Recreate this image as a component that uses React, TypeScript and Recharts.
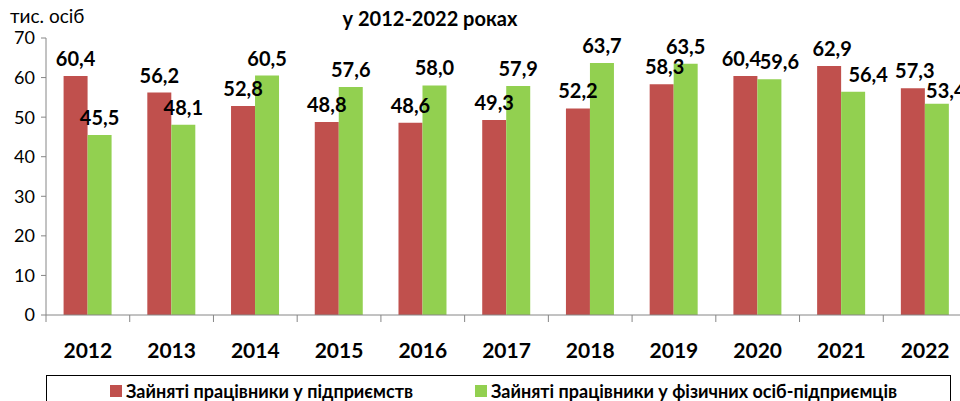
import React from "react";
import { BarChart, Bar, XAxis, YAxis, LabelList } from "recharts";

const years = ["2012", "2013", "2014", "2015", "2016", "2017", "2018", "2019", "2020", "2021", "2022"];
const enterpriseWorkers = [60.4, 56.2, 52.8, 48.8, 48.6, 49.3, 52.2, 58.3, 60.4, 62.9, 57.3];
const soleProprietorWorkers = [45.5, 48.1, 60.5, 57.6, 58.0, 57.9, 63.7, 63.5, 59.6, 56.4, 53.4];
const yTicks = [0, 10, 20, 30, 40, 50, 60, 70];

const seriesNames = ["Зайняті працівники у підприємств", "Зайняті працівники у фізичних осіб-підприємців"];
const RED = "#C0504D";
const GREEN = "#92D050";
const FONT = "Lato, 'Open Sans', sans-serif";

const data = years.map((y, i) => ({
  year: y,
  a: enterpriseWorkers[i],
  b: soleProprietorWorkers[i],
}));

const fmt = (v: number) => v.toFixed(1).replace(".", ",");

const PLOT_W = 921;
const BAND = PLOT_W / years.length;

// small label nudges (styling only)
const nudgeA: Record<number, [number, number]> = { 7: [3, 0], 8: [-4, 0], 9: [3, 0], 10: [2, 0] };
const nudgeB: Record<number, [number, number]> = { 8: [10, 0], 9: [15, 0], 10: [9, 4] };

const makeLabel = (nudge: Record<number, [number, number]>) => (props: any) => {
  const { x, y, width, value, index } = props;
  const [dx, dy] = nudge[index] || [0, 0];
  return (
    <text
      x={x + width / 2 + dx}
      y={y - 10 + dy}
      textAnchor="middle"
      fontFamily={FONT}
      fontWeight={700}
      fontSize={20}
      fill="#000"
    >
      {fmt(value)}
    </text>
  );
};

const XTick = (props: any) => {
  const { x, y, payload, index } = props;
  return (
    <g>
      <line x1={x - BAND / 2} x2={x - BAND / 2} y1={y - 8} y2={y - 1} stroke="#868686" strokeWidth={1} />
      {index === years.length - 1 && (
        <line x1={x + BAND / 2} x2={x + BAND / 2} y1={y - 8} y2={y - 1} stroke="#868686" strokeWidth={1} />
      )}
      <text x={x} y={y + 35} textAnchor="middle" fontFamily={FONT} fontWeight={700} fontSize={21} fill="#000">
        {payload.value}
      </text>
    </g>
  );
};

export default function App() {
  return (
    <div style={{ position: "fixed", left: 0, top: 0, width: 960, height: 401, overflow: "hidden", background: "#fff" }}>
      <BarChart
        width={967}
        height={401}
        data={data}
        margin={{ top: 38, right: 0, bottom: 0, left: 0 }}
        barCategoryGap="21%"
        barGap={0}
      >
        <XAxis
          dataKey="year"
          height={86}
          axisLine={{ stroke: "#868686" }}
          tickLine={false}
          tick={<XTick />}
          interval={0}
        />
        <YAxis
          width={46}
          domain={[0, 70]}
          ticks={yTicks}
          axisLine={{ stroke: "#868686" }}
          tickLine={{ stroke: "#868686" }}
          tickSize={5}
          tickMargin={6}
          tick={{ fontFamily: FONT, fontSize: 18, fill: "#000" }}
        />
        <Bar dataKey="a" name={seriesNames[0]} fill={RED} isAnimationActive={false}>
          <LabelList dataKey="a" content={makeLabel(nudgeA)} />
        </Bar>
        <Bar dataKey="b" name={seriesNames[1]} fill={GREEN} isAnimationActive={false}>
          <LabelList dataKey="b" content={makeLabel(nudgeB)} />
        </Bar>
      </BarChart>
      <div style={{ position: "absolute", left: 0, top: 0, width: 960, height: 401, pointerEvents: "none", fontFamily: FONT }}>
        <div style={{ position: "absolute", left: 10, top: 5, fontSize: 19, color: "#000", lineHeight: "22px" }}>тис. осіб</div>
        <div style={{ position: "absolute", left: 300, width: 260, textAlign: "center", top: 6, fontSize: 20, fontWeight: 700, color: "#000", lineHeight: "24px" }}>
          у 2012-2022 роках
        </div>
        <div style={{ position: "absolute", left: 46, top: 375, width: 905, height: 40, border: "1px solid #000", boxSizing: "border-box" }}>
          <div style={{ position: "absolute", left: 63, top: 5, display: "flex", alignItems: "center", fontSize: 18, lineHeight: "20px", fontWeight: 700, whiteSpace: "nowrap" }}>
            <span style={{ display: "inline-block", width: 12, height: 12, background: RED, marginRight: 4 }} />
            {seriesNames[0]}
          </div>
          <div style={{ position: "absolute", left: 428, top: 5, display: "flex", alignItems: "center", fontSize: 18, lineHeight: "20px", fontWeight: 700, whiteSpace: "nowrap" }}>
            <span style={{ display: "inline-block", width: 12, height: 12, background: GREEN, marginRight: 4 }} />
            {seriesNames[1]}
          </div>
        </div>
      </div>
    </div>
  );
}
